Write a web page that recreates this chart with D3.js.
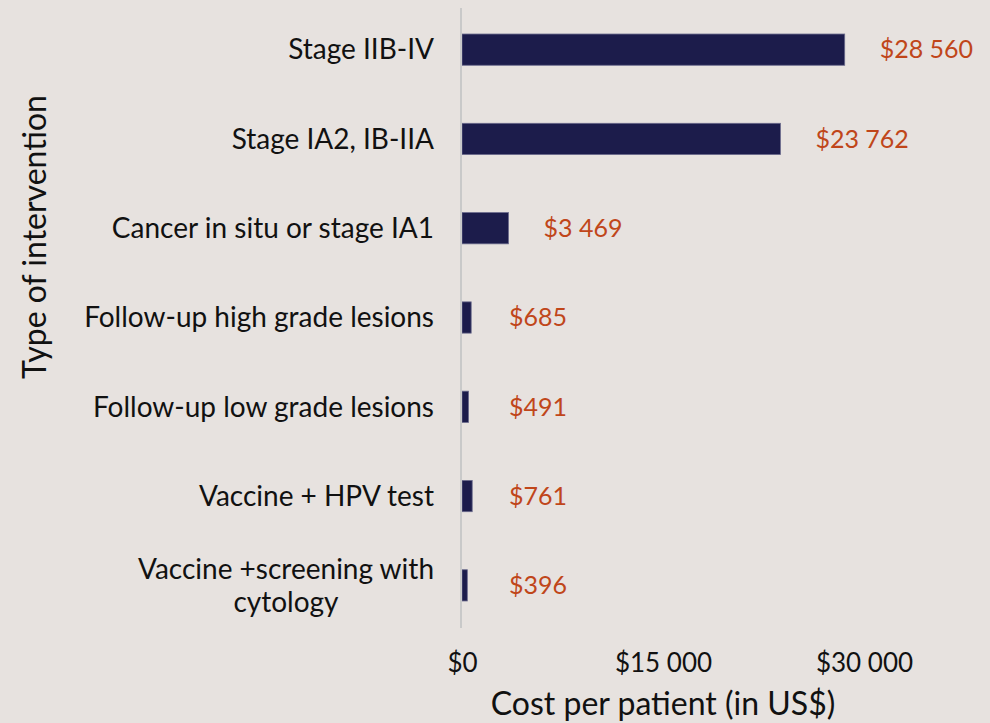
<!DOCTYPE html>
<html>
<head>
<meta charset="utf-8">
<script src="https://cdn.jsdelivr.net/npm/d3@7"></script>
<style>
	body { margin: 0; background: #e7e2df; }
	svg { display: block; font-family: Lato, sans-serif; }
</style>
</head>
<body>
<div id="chart"></div>
<script>
//Data
var categories = [
	"Stage IIB-IV",
	"Stage IA2, IB-IIA",
	"Cancer in situ or stage IA1",
	"Follow-up high grade lesions",
	"Follow-up low grade lesions",
	"Vaccine + HPV test",
	"Vaccine +screening with cytology"
];
var costs = [28560, 23762, 3469, 685, 491, 761, 396];
var tickValues = [0, 15000, 30000];

var width = 990;
var height = 723;

var svg = d3.select("#chart")
	.append("svg")
	.attr("width", width)
	.attr("height", height);

//Scales
var x = d3.scaleLinear()
	.domain([0, 30000])
	.range([462, 864]);

var y = d3.scaleBand()
	.domain(categories)
	.range([5, 630])
	.paddingInner(0.65)
	.paddingOuter(0.325);

var money = function(v) {
	return "$" + d3.format(",")(v).replace(/,/g, " ");
};

//Bars
svg.selectAll(".bar")
	.data(costs)
	.enter()
	.append("rect")
	.attr("class", "bar")
	.attr("x", x(0))
	.attr("y", function(d, i) { return y(categories[i]); })
	.attr("width", function(d) { return x(d) - x(0); })
	.attr("height", y.bandwidth())
	.attr("fill", "#1c1c4b")
	.attr("stroke", "#6a6a8c")
	.attr("stroke-width", 0.8);

//Value labels
svg.selectAll(".value")
	.data(costs)
	.enter()
	.append("text")
	.attr("class", "value")
	.attr("x", function(d) { return Math.max(x(d) + 35, 509); })
	.attr("y", function(d, i) { return y(categories[i]) + y.bandwidth() / 2; })
	.attr("dy", "0.35em")
	.attr("fill", "#c0461a")
	.style("font-size", "25px")
	.text(money);

//Vertical axis line
svg.append("line")
	.attr("x1", x(0) - 1)
	.attr("x2", x(0) - 1)
	.attr("y1", 8)
	.attr("y2", 628)
	.attr("stroke", "#c9c9c9")
	.attr("stroke-width", 2);

//Category labels, wrapped where needed
svg.selectAll(".cat")
	.data(categories)
	.enter()
	.append("text")
	.attr("class", "cat")
	.attr("fill", "#111")
	.style("font-size", "28px")
	.each(function(d) {
		var t = d3.select(this);
		var cy = y(d) + y.bandwidth() / 2;
		if (d.length > 30) {
			var lines = ["Vaccine +screening with", "cytology"];
			t.text(lines[0]);
			var w = this.getComputedTextLength();
			t.text(null).attr("text-anchor", "middle");
			lines.forEach(function(l, k) {
				t.append("tspan")
					.attr("x", 434 - w / 2)
					.attr("y", cy - 16 + k * 33)
					.attr("dy", "0.35em")
					.text(l);
			});
		} else {
			t.attr("x", 434)
				.attr("y", cy)
				.attr("dy", "0.35em")
				.attr("text-anchor", "end")
				.text(d);
		}
	});

//X ticks
svg.append("g")
	.attr("transform", "translate(0,663)")
	.call(d3.axisBottom(x).tickValues(tickValues).tickFormat(money).tickSize(0))
	.call(function(g) { g.select(".domain").remove(); })
	.selectAll("text")
	.attr("fill", "#111")
	.style("font-size", "26px")
	.style("font-family", "Lato, sans-serif")
	.attr("dy", "0.35em")
	.attr("y", 0);

//Axis titles
svg.append("text")
	.attr("x", 663)
	.attr("y", 704)
	.attr("dy", "0.35em")
	.attr("text-anchor", "middle")
	.attr("fill", "#111")
	.style("font-size", "32px")
	.text("Cost per patient (in US$)");

svg.append("text")
	.attr("transform", "translate(35,237) rotate(-90)")
	.attr("dy", "0.35em")
	.attr("text-anchor", "middle")
	.attr("fill", "#111")
	.style("font-size", "32px")
	.text("Type of intervention");
</script>
</body>
</html>
